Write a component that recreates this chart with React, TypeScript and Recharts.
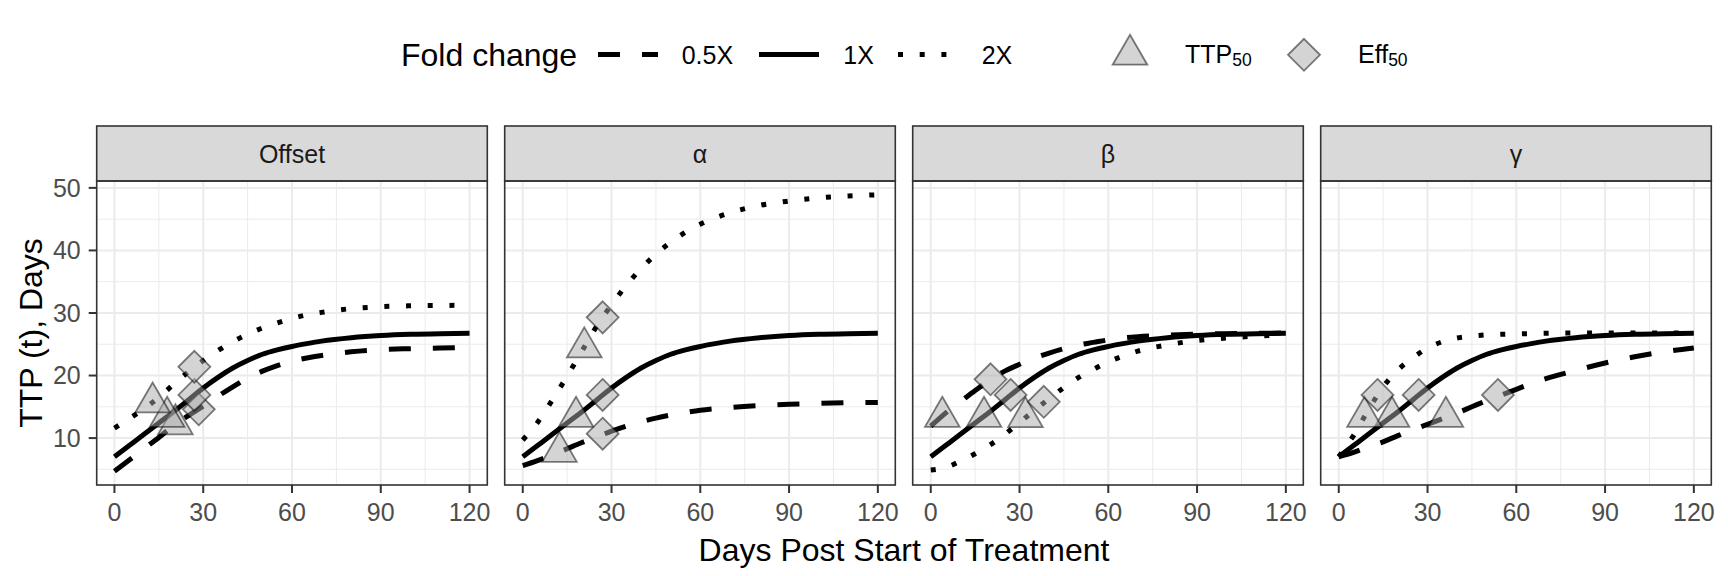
import React from 'react';
import { ComposedChart, Line, Scatter, XAxis, YAxis, CartesianGrid } from 'recharts';

const FONT = '"Liberation Sans", Arial, Helvetica, sans-serif';

// time grid the curves were read at
const days = [0, 5, 10, 15, 20, 25, 30, 35, 40, 45, 50, 55, 60, 65, 70, 80, 90, 100, 110, 120];

// 1X curve is the same in every panel
const baseline1x = [7.0, 8.8, 10.6, 12.4, 14.2, 16.1, 18.0, 19.7, 21.2, 22.4, 23.4, 24.1, 24.65, 25.1, 25.5, 26.05, 26.4, 26.6, 26.7, 26.75];

const offsetHalf = [4.7, 6.5, 8.3, 10.1, 12.0, 13.6, 15.1, 16.7, 18.2, 19.6, 20.7, 21.6, 22.3, 22.8, 23.2, 23.8, 24.15, 24.3, 24.4, 24.45];
const offsetDouble = [11.6, 13.1, 14.7, 16.5, 18.6, 20.6, 22.4, 24.0, 25.4, 26.6, 27.6, 28.4, 29.1, 29.7, 30.1, 30.7, 31.0, 31.15, 31.2, 31.25];

const alphaHalf = [5.6, 6.4, 7.3, 8.3, 9.3, 10.2, 11.1, 11.9, 12.6, 13.2, 13.7, 14.1, 14.45, 14.7, 14.9, 15.2, 15.4, 15.55, 15.65, 15.7];
const alphaDouble = [9.7, 12.5, 16.1, 19.9, 23.9, 27.9, 31.3, 34.4, 37.1, 39.4, 41.3, 42.9, 44.2, 45.2, 46.0, 47.2, 47.9, 48.4, 48.7, 48.9];

const betaHalf = [11.9, 14.0, 15.8, 17.6, 19.3, 20.7, 21.8, 22.8, 23.6, 24.3, 24.9, 25.3, 25.7, 26.0, 26.2, 26.45, 26.6, 26.7, 26.75, 26.8];
const betaDouble = [4.9, 5.3, 6.3, 7.5, 8.9, 10.6, 12.5, 14.4, 16.3, 18.1, 19.7, 21.0, 22.2, 23.1, 23.9, 24.9, 25.6, 26.0, 26.3, 26.5];

const gammaHalf = [7.0, 7.7, 8.6, 9.4, 10.4, 11.3, 12.2, 13.1, 14.0, 15.0, 16.0, 16.9, 17.8, 18.7, 19.5, 20.8, 22.0, 23.0, 23.8, 24.4];
const gammaDouble = [7.0, 10.4, 14.5, 18.2, 20.9, 22.8, 24.4, 25.4, 26.0, 26.3, 26.5, 26.6, 26.65, 26.7, 26.75, 26.8, 26.8, 26.8, 26.8, 26.8];

// TTP50 (triangles) and Eff50 (diamonds): [0.5X, 1X, 2X]
const offsetTtpDays = [20.6, 17.8, 12.9];
const offsetTtpValues = [12.2, 13.4, 15.7];
const offsetEffDays = [28.5, 27, 27];
const offsetEffValues = [14.6, 16.9, 21.4];

const alphaTtpDays = [12.4, 18, 20.8];
const alphaTtpValues = [7.8, 13.4, 24.5];
const alphaEffDays = [27, 27, 27];
const alphaEffValues = [10.7, 16.9, 29.3];

const betaTtpDays = [3.9, 18, 32];
const betaTtpValues = [13.4, 13.4, 13.35];
const betaEffDays = [20.2, 27, 38.2];
const betaEffValues = [19.4, 16.9, 15.8];

const gammaTtpDays = [36.2, 18, 8.7];
const gammaTtpValues = [13.4, 13.4, 13.4];
const gammaEffDays = [53.8, 27, 13.1];
const gammaEffValues = [16.9, 16.9, 16.9];

const panelNames = ['Offset', 'α', 'β', 'γ'];
const foldLabels = ['0.5X', '1X', '2X'];

const xTicks = [0, 30, 60, 90, 120];
const xMinor = [15, 45, 75, 105];
const yTicks = [10, 20, 30, 40, 50];
const yMinor = [5, 15, 25, 35, 45];

const toPoints = (xs: number[], ys: number[]) => xs.map((t, i) => ({ t, y: ys[i] }));

const panels = [
  { name: panelNames[0], half: offsetHalf, double: offsetDouble, ttp: toPoints(offsetTtpDays, offsetTtpValues), eff: toPoints(offsetEffDays, offsetEffValues) },
  { name: panelNames[1], half: alphaHalf, double: alphaDouble, ttp: toPoints(alphaTtpDays, alphaTtpValues), eff: toPoints(alphaEffDays, alphaEffValues) },
  { name: panelNames[2], half: betaHalf, double: betaDouble, ttp: toPoints(betaTtpDays, betaTtpValues), eff: toPoints(betaEffDays, betaEffValues) },
  { name: panelNames[3], half: gammaHalf, double: gammaDouble, ttp: toPoints(gammaTtpDays, gammaTtpValues), eff: toPoints(gammaEffDays, gammaEffValues) },
];

// layout (px)
const PANEL_LEFT0 = 96.7;
const PANEL_STEP = 408;
const PANEL_W = 390.6;
const PLOT_TOP = 181;
const PLOT_H = 304;
const STRIP_TOP = 126;
const X_AXIS_H = 60;
const RIGHT_PAD = 25;
const TOP_PAD = 20;

const LINE_W = 5;
const DASH = '22 22';
const DOT = '5 16.7';

const MARK_FILL = '#A9A9A9';

const Triangle = (props: any) => {
  const { cx, cy } = props;
  if (cx == null || cy == null) return null;
  const r = 20;
  const hw = 17.32;
  return (
    <path
      d={`M${cx},${cy - r}L${cx + hw},${cy + r / 2}L${cx - hw},${cy + r / 2}Z`}
      fill={MARK_FILL} fillOpacity={0.5} stroke="#000" strokeOpacity={0.5} strokeWidth={1.8}
    />
  );
};

const Diamond = (props: any) => {
  const { cx, cy } = props;
  if (cx == null || cy == null) return null;
  const h = 16;
  return (
    <path
      d={`M${cx},${cy - h}L${cx + h},${cy}L${cx},${cy + h}L${cx - h},${cy}Z`}
      fill={MARK_FILL} fillOpacity={0.5} stroke="#000" strokeOpacity={0.5} strokeWidth={1.8}
    />
  );
};

function Panel({ index }: { index: number }) {
  const p = panels[index];
  const left = PANEL_LEFT0 + index * PANEL_STEP;
  const yw = index === 0 ? left : 20;
  const tickStyle = { fontSize: 25, fill: '#4D4D4D', fontFamily: FONT };
  return (
    <div style={{ position: 'absolute', left: left - yw, top: PLOT_TOP - TOP_PAD }}>
      <ComposedChart
        width={yw + PANEL_W + RIGHT_PAD}
        height={TOP_PAD + PLOT_H + X_AXIS_H}
        margin={{ top: TOP_PAD, right: RIGHT_PAD, bottom: 0, left: index === 0 ? 0 : 20 }}
      >
        <CartesianGrid verticalValues={xMinor} horizontalValues={yMinor} stroke="#EBEBEB" strokeWidth={1} />
        <CartesianGrid verticalValues={xTicks} horizontalValues={yTicks} stroke="#EBEBEB" strokeWidth={2} />
        <XAxis
          type="number" dataKey="t" domain={[-6, 126]} ticks={xTicks} interval={0}
          height={X_AXIS_H} axisLine={false} tickSize={8} tickMargin={10}
          tickLine={{ stroke: '#333333', strokeWidth: 2 }} tick={tickStyle}
        />
        <YAxis
          type="number" dataKey="y" domain={[2.5, 51.1]} ticks={yTicks} interval={0}
          hide={index !== 0} width={yw} axisLine={false} tickSize={8} tickMargin={8}
          tickLine={{ stroke: '#333333', strokeWidth: 2 }} tick={tickStyle}
        />
        <Line data={toPoints(days, p.half)} dataKey="y" type="monotone" stroke="#000" strokeWidth={LINE_W}
          strokeDasharray={DASH} dot={false} activeDot={false} isAnimationActive={false} />
        <Line data={toPoints(days, baseline1x)} dataKey="y" type="monotone" stroke="#000" strokeWidth={LINE_W}
          dot={false} activeDot={false} isAnimationActive={false} />
        <Line data={toPoints(days, p.double)} dataKey="y" type="monotone" stroke="#000" strokeWidth={LINE_W}
          strokeDasharray={DOT} dot={false} activeDot={false} isAnimationActive={false} />
        <Scatter data={p.ttp} dataKey="y" shape={Triangle} isAnimationActive={false} />
        <Scatter data={p.eff} dataKey="y" shape={Diamond} isAnimationActive={false} />
      </ComposedChart>
    </div>
  );
}

function Overlay() {
  const legendY = 54.5;
  const keys = [
    { x: 598, dash: DASH, label: foldLabels[0], lx: 681.7 },
    { x: 759, dash: undefined, label: foldLabels[1], lx: 843.3 },
    { x: 898, dash: DOT, label: foldLabels[2], lx: 981.7 },
  ];
  return (
    <svg width={1728} height={576} style={{ position: 'absolute', left: 0, top: 0, pointerEvents: 'none' }}
      fontFamily={FONT}>
      {panels.map((p, i) => {
        const left = PANEL_LEFT0 + i * PANEL_STEP;
        return (
          <g key={p.name}>
            <rect x={left} y={STRIP_TOP} width={PANEL_W} height={PLOT_TOP - STRIP_TOP}
              fill="#D9D9D9" stroke="#333333" strokeWidth={1.6} />
            <text x={left + PANEL_W / 2} y={162.7} textAnchor="middle" fontSize={25} fill="#1A1A1A">{p.name}</text>
            <rect x={left} y={PLOT_TOP} width={PANEL_W} height={PLOT_H}
              fill="none" stroke="#333333" strokeWidth={1.6} />
          </g>
        );
      })}

      <text x={904} y={561} textAnchor="middle" fontSize={32} fill="#000">Days Post Start of Treatment</text>
      <text transform="rotate(-90)" x={-(PLOT_TOP + PLOT_H / 2)} y={41.7} textAnchor="middle" fontSize={32} fill="#000">
        TTP (t), Days
      </text>

      <text x={401} y={65.5} fontSize={32} fill="#000">Fold change</text>
      {keys.map((k) => (
        <g key={k.label}>
          <line x1={k.x} x2={k.x + 60} y1={legendY} y2={legendY} stroke="#000" strokeWidth={LINE_W}
            strokeDasharray={k.dash} />
          <text x={k.lx} y={63.5} fontSize={25} fill="#000">{k.label}</text>
        </g>
      ))}

      <Triangle cx={1130} cy={54.7} />
      <text x={1185} y={62.7} fontSize={25} fill="#000">
        TTP<tspan fontSize={17.5} dy={3}>50</tspan>
      </text>
      <Diamond cx={1304} cy={54.8} />
      <text x={1358} y={62.7} fontSize={25} fill="#000">
        Eff<tspan fontSize={17.5} dy={3}>50</tspan>
      </text>
    </svg>
  );
}

export default function App() {
  return (
    <div style={{ position: 'absolute', left: 0, top: 0, width: 1728, height: 576, background: '#fff', overflow: 'hidden' }}>
      {panels.map((p, i) => <Panel key={p.name} index={i} />)}
      <Overlay />
    </div>
  );
}
